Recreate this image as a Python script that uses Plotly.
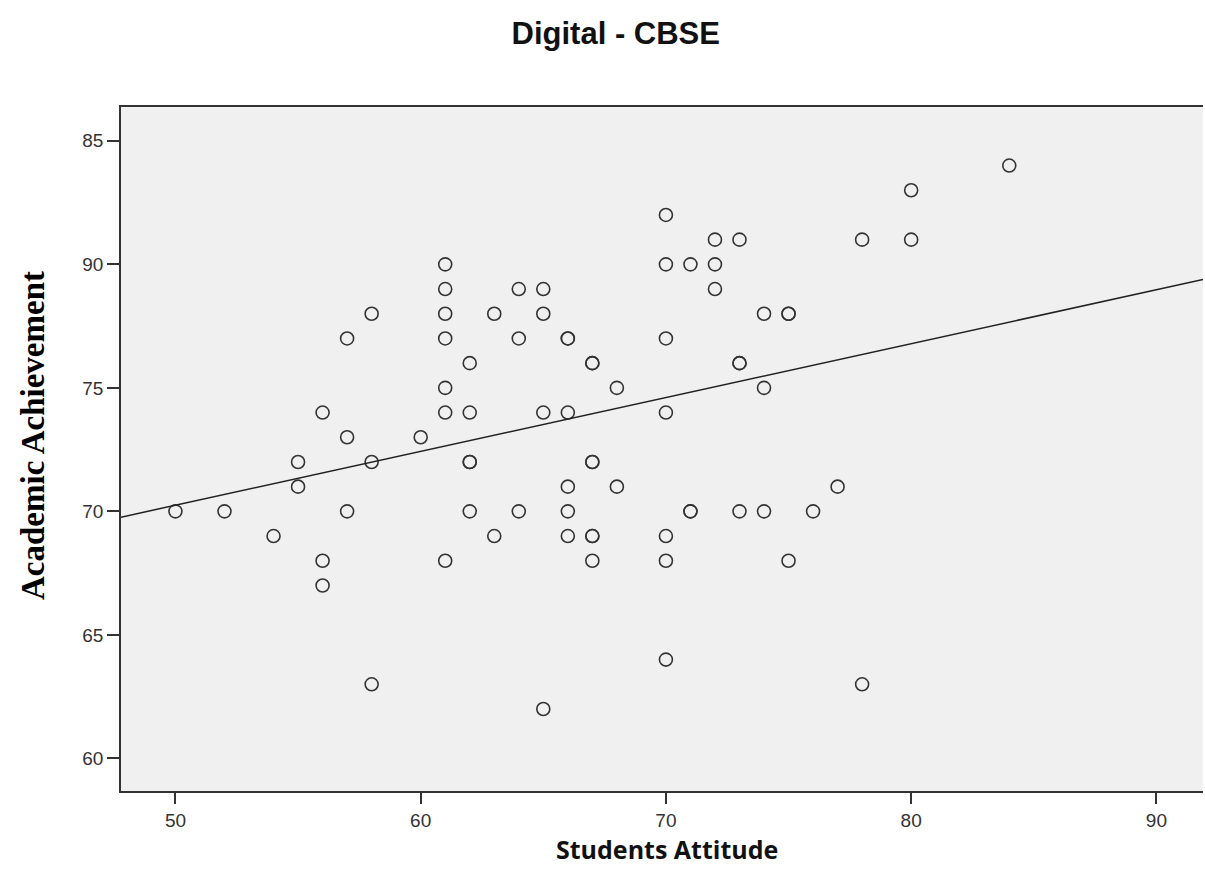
import numpy as np
import plotly.graph_objects as go

# Students Attitude (x) and Academic Achievement (y); duplicates appear as bold markers
attitude = [50, 52, 54, 55, 55, 56, 56, 56, 57, 57, 57, 58, 58, 58, 60,
            61, 61, 61, 61, 61, 61, 61,
            62, 62, 62, 62, 62, 63, 63, 64, 64, 64, 65, 65, 65, 65,
            66, 66, 66, 66, 66, 66,
            67, 67, 67, 67, 67, 67, 67, 68, 68,
            70, 70, 70, 70, 70, 70, 70, 71, 71, 71, 72, 72, 72,
            73, 73, 73, 73, 74, 74, 74, 75, 75, 75, 76, 77, 78, 78, 80, 80, 84]
achievement = [70, 70, 69, 72, 71, 74, 68, 67, 77, 73, 70, 78, 72, 63, 73,
               80, 79, 78, 77, 75, 74, 68,
               76, 74, 72, 72, 70, 78, 69, 79, 77, 70, 79, 78, 74, 62,
               77, 77, 74, 71, 70, 69,
               76, 76, 72, 72, 69, 69, 68, 75, 71,
               82, 80, 77, 74, 69, 68, 64, 80, 70, 70, 81, 80, 79,
               81, 76, 76, 70, 78, 75, 70, 78, 78, 68, 70, 71, 81, 63, 83, 81, 84]

# Fit line
fit_intercept = 59.35
fit_slope = 0.218

y_tickvals = [60, 65, 70, 75, 80, 85]
y_ticktext = ["60", "65", "70", "75", "90", "85"]
x_tickvals = [50, 60, 70, 80, 90]
x_range = [47.78, 91.9]
y_range = [58.68, 86.37]

line_x = np.array(x_range)
line_y = fit_intercept + fit_slope * line_x

fig = go.Figure()
fig.add_trace(go.Scatter(
    x=attitude, y=achievement, mode="markers",
    marker=dict(symbol="circle-open", size=13, color="#333333",
                line=dict(width=1.6, color="#333333")),
    showlegend=False, hoverinfo="x+y"))
fig.add_trace(go.Scatter(
    x=line_x, y=line_y, mode="lines",
    line=dict(color="#222222", width=1.5),
    showlegend=False, hoverinfo="skip"))

fig.update_layout(
    width=1205, height=878,
    margin=dict(l=121, r=2, t=107, b=87),
    paper_bgcolor="white",
    plot_bgcolor="#f0f0f0",
    title=dict(text="<b>Digital - CBSE</b>", x=0.511, xanchor="center",
               y=1 - 33 / 878, yanchor="middle", yref="container",
               font=dict(family="Liberation Sans, Arial", size=31, color="#111111")),
    xaxis=dict(range=x_range, tickvals=x_tickvals, showgrid=False, zeroline=False,
               showline=True, linecolor="#333333", linewidth=1.5, mirror=True,
               ticks="outside", ticklen=11, tickwidth=1.5, tickcolor="#333333",
               tickfont=dict(family="Liberation Sans, Arial", size=19, color="#333333")),
    yaxis=dict(range=y_range, tickvals=y_tickvals, ticktext=y_ticktext,
               showgrid=False, zeroline=False,
               showline=True, linecolor="#333333", linewidth=1.5,
               ticks="outside", ticklen=12, tickwidth=1.5, tickcolor="#333333",
               tickfont=dict(family="Liberation Sans, Arial", size=19, color="#333333")),
    annotations=[
        dict(text="<b>Students Attitude</b>", xref="paper", yref="paper",
             x=(667 - 121) / 1082, y=-(849 - 791) / 684, xanchor="center", yanchor="middle",
             showarrow=False,
             font=dict(family="Open Sans, DejaVu Sans", size=25, color="#111111")),
        dict(text="<b>Academic Achievement</b>", xref="paper", yref="paper",
             x=-(121 - 33) / 1082, y=(791 - 436) / 684, xanchor="center", yanchor="middle",
             textangle=-90, showarrow=False,
             font=dict(family="Liberation Serif, Times New Roman", size=33, color="#000000")),
    ],
)

fig.write_html("out.html")
